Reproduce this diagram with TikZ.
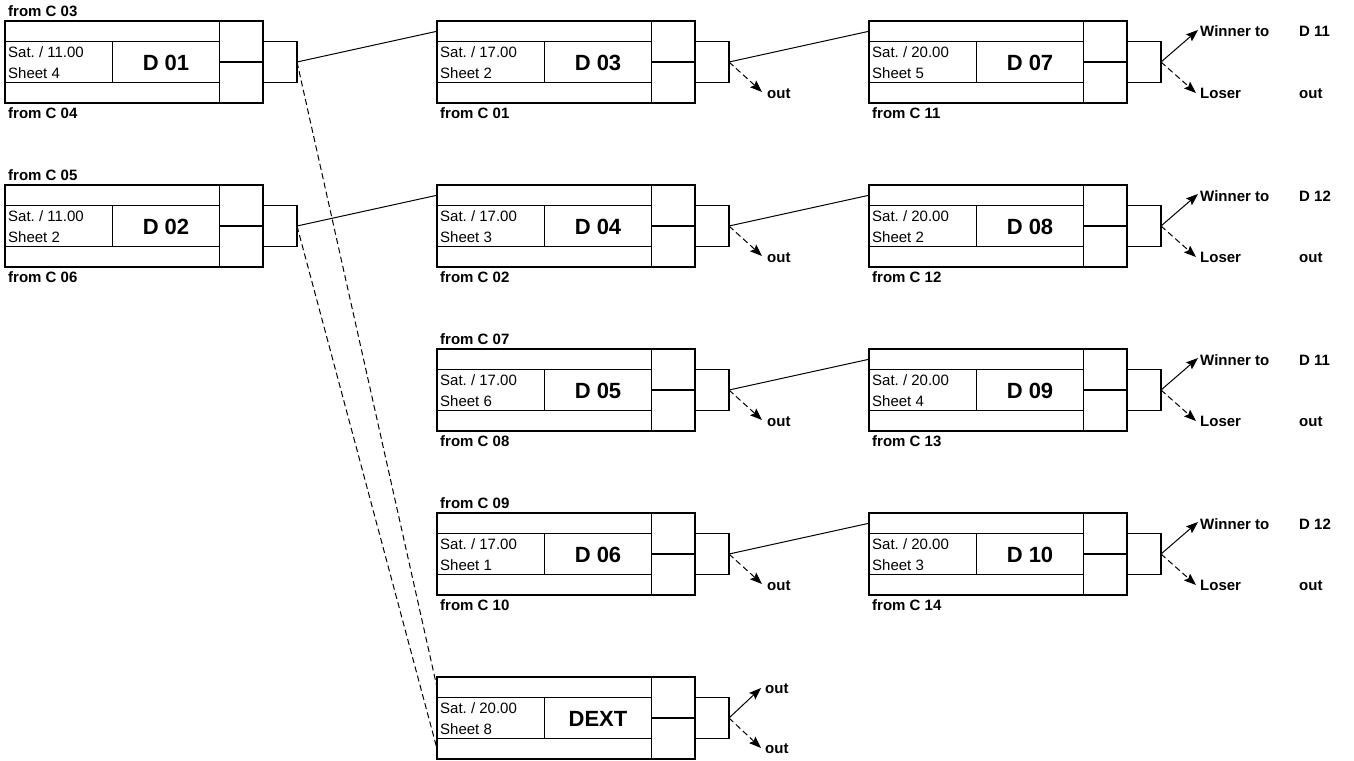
\documentclass[tikz,border=0pt]{standalone}
\usepackage{fontspec}
\setmainfont{Liberation Sans}
\usetikzlibrary{arrows.meta,calc}
\frenchspacing
\tikzset{
  boxline/.style={line width=1.2pt},
  conn/.style={line width=1pt},
  dconn/.style={line width=1pt, dash pattern=on 6pt off 3.5pt},
  tip/.style={-{Stealth[length=12pt,width=9pt,inset=2pt]}},
  smalltxt/.style={inner sep=0pt, anchor=base west, font=\fontsize{15}{17}\selectfont},
  boldtxt/.style={inner sep=0pt, anchor=base west, font=\bfseries\fontsize{15}{17}\selectfont},
  bigtxt/.style={inner sep=0pt, font=\bfseries\fontsize{22}{24}\selectfont},
}
\newcommand\gamebox[6]{%
  \begin{scope}[shift={(#2,#3)}]
    \draw[boxline] (0,0) rectangle (258,82);
    \draw[boxline] (0,20.5) -- (214.5,20.5) (0,61.5) -- (214.5,61.5)
      (214.5,0) -- (214.5,82) (214.5,41) -- (258,41) (107.5,20.5) -- (107.5,61.5);
    \draw[boxline] (258,20.5) rectangle (292,61.5);
    \node[smalltxt] (#1-t1) at (3,36) {#4};
    \node[smalltxt] (#1-t2) at (3,57) {#5};
    \node[bigtxt] (#1-lab) at (161,41.5) {#6};
    \coordinate (#1-out) at (292,41);
    \coordinate (#1-inT) at (0,10.25);
    \coordinate (#1-inB) at (0,71.75);
    \coordinate (#1-above) at (3,-4.5);
    \coordinate (#1-below) at (3,97);
  \end{scope}}
\newcommand\outarrow[1]{%
  \coordinate (#1-o) at ($(#1-out)+(33,30)$);
  \draw[dconn,tip] (#1-out) -- (#1-o);
  \node[boldtxt] (#1-otxt) at ($(#1-out)+(38,36)$) {out};}
\newcommand\winlose[2]{%
  \coordinate (#1-w) at ($(#1-out)+(37,-32)$);
  \coordinate (#1-l) at ($(#1-out)+(35,31)$);
  \draw[conn,tip] (#1-out) -- (#1-w);
  \draw[dconn,tip] (#1-out) -- (#1-l);
  \node[boldtxt] (#1-wt) at ($(#1-out)+(39,-25)$) {Winner to};
  \node[boldtxt] (#1-wd) at ($(#1-out)+(138,-25)$) {#2};
  \node[boldtxt] (#1-lt) at ($(#1-out)+(39,36)$) {Loser};
  \node[boldtxt] (#1-ld) at ($(#1-out)+(138,36)$) {out};}
\begin{document}
\begin{tikzpicture}[x=1pt,y=-1pt]
\useasboundingbox (0,0) rectangle (1354,760);
% column 1
\gamebox{D01}{5}{21}{Sat. / 11.00}{Sheet 4}{D 01}
\gamebox{D02}{5}{185}{Sat. / 11.00}{Sheet 2}{D 02}
% column 2
\gamebox{D03}{437}{21}{Sat. / 17.00}{Sheet 2}{D 03}
\gamebox{D04}{437}{185}{Sat. / 17.00}{Sheet 3}{D 04}
\gamebox{D05}{437}{349}{Sat. / 17.00}{Sheet 6}{D 05}
\gamebox{D06}{437}{513}{Sat. / 17.00}{Sheet 1}{D 06}
\gamebox{DEXT}{437}{677}{Sat. / 20.00}{Sheet 8}{DEXT}
% column 3
\gamebox{D07}{869}{21}{Sat. / 20.00}{Sheet 5}{D 07}
\gamebox{D08}{869}{185}{Sat. / 20.00}{Sheet 2}{D 08}
\gamebox{D09}{869}{349}{Sat. / 20.00}{Sheet 4}{D 09}
\gamebox{D10}{869}{513}{Sat. / 20.00}{Sheet 3}{D 10}
% from labels
\node[boldtxt] (fC03) at (D01-above) {from C 03};
\node[boldtxt] (fC04) at (D01-below) {from C 04};
\node[boldtxt] (fC05) at (D02-above) {from C 05};
\node[boldtxt] (fC06) at (D02-below) {from C 06};
\node[boldtxt] (fC01) at (D03-below) {from C 01};
\node[boldtxt] (fC02) at (D04-below) {from C 02};
\node[boldtxt] (fC07) at (D05-above) {from C 07};
\node[boldtxt] (fC08) at (D05-below) {from C 08};
\node[boldtxt] (fC09) at (D06-above) {from C 09};
\node[boldtxt] (fC10) at (D06-below) {from C 10};
\node[boldtxt] (fC11) at (D07-below) {from C 11};
\node[boldtxt] (fC12) at (D08-below) {from C 12};
\node[boldtxt] (fC13) at (D09-below) {from C 13};
\node[boldtxt] (fC14) at (D10-below) {from C 14};
% connectors
\draw[conn] (D01-out) -- (D03-inT);
\draw[conn] (D02-out) -- (D04-inT);
\draw[dconn] (D01-out) -- (DEXT-inT);
\draw[dconn] (D02-out) -- (DEXT-inB);
\draw[conn] (D03-out) -- (D07-inT);
\draw[conn] (D04-out) -- (D08-inT);
\draw[conn] (D05-out) -- (D09-inT);
\draw[conn] (D06-out) -- (D10-inT);
\outarrow{D03}
\outarrow{D04}
\outarrow{D05}
\outarrow{D06}
\winlose{D07}{D 11}
\winlose{D08}{D 12}
\winlose{D09}{D 11}
\winlose{D10}{D 12}
% DEXT outputs
\coordinate (DEXT-up) at ($(DEXT-out)+(32,-30)$);
\coordinate (DEXT-dn) at ($(DEXT-out)+(32,30)$);
\draw[conn,tip] (DEXT-out) -- (DEXT-up);
\draw[dconn,tip] (DEXT-out) -- (DEXT-dn);
\node[boldtxt] (DEXT-ut) at ($(DEXT-out)+(36,-25)$) {out};
\node[boldtxt] (DEXT-dt) at ($(DEXT-out)+(36,35)$) {out};
\end{tikzpicture}
\end{document}
